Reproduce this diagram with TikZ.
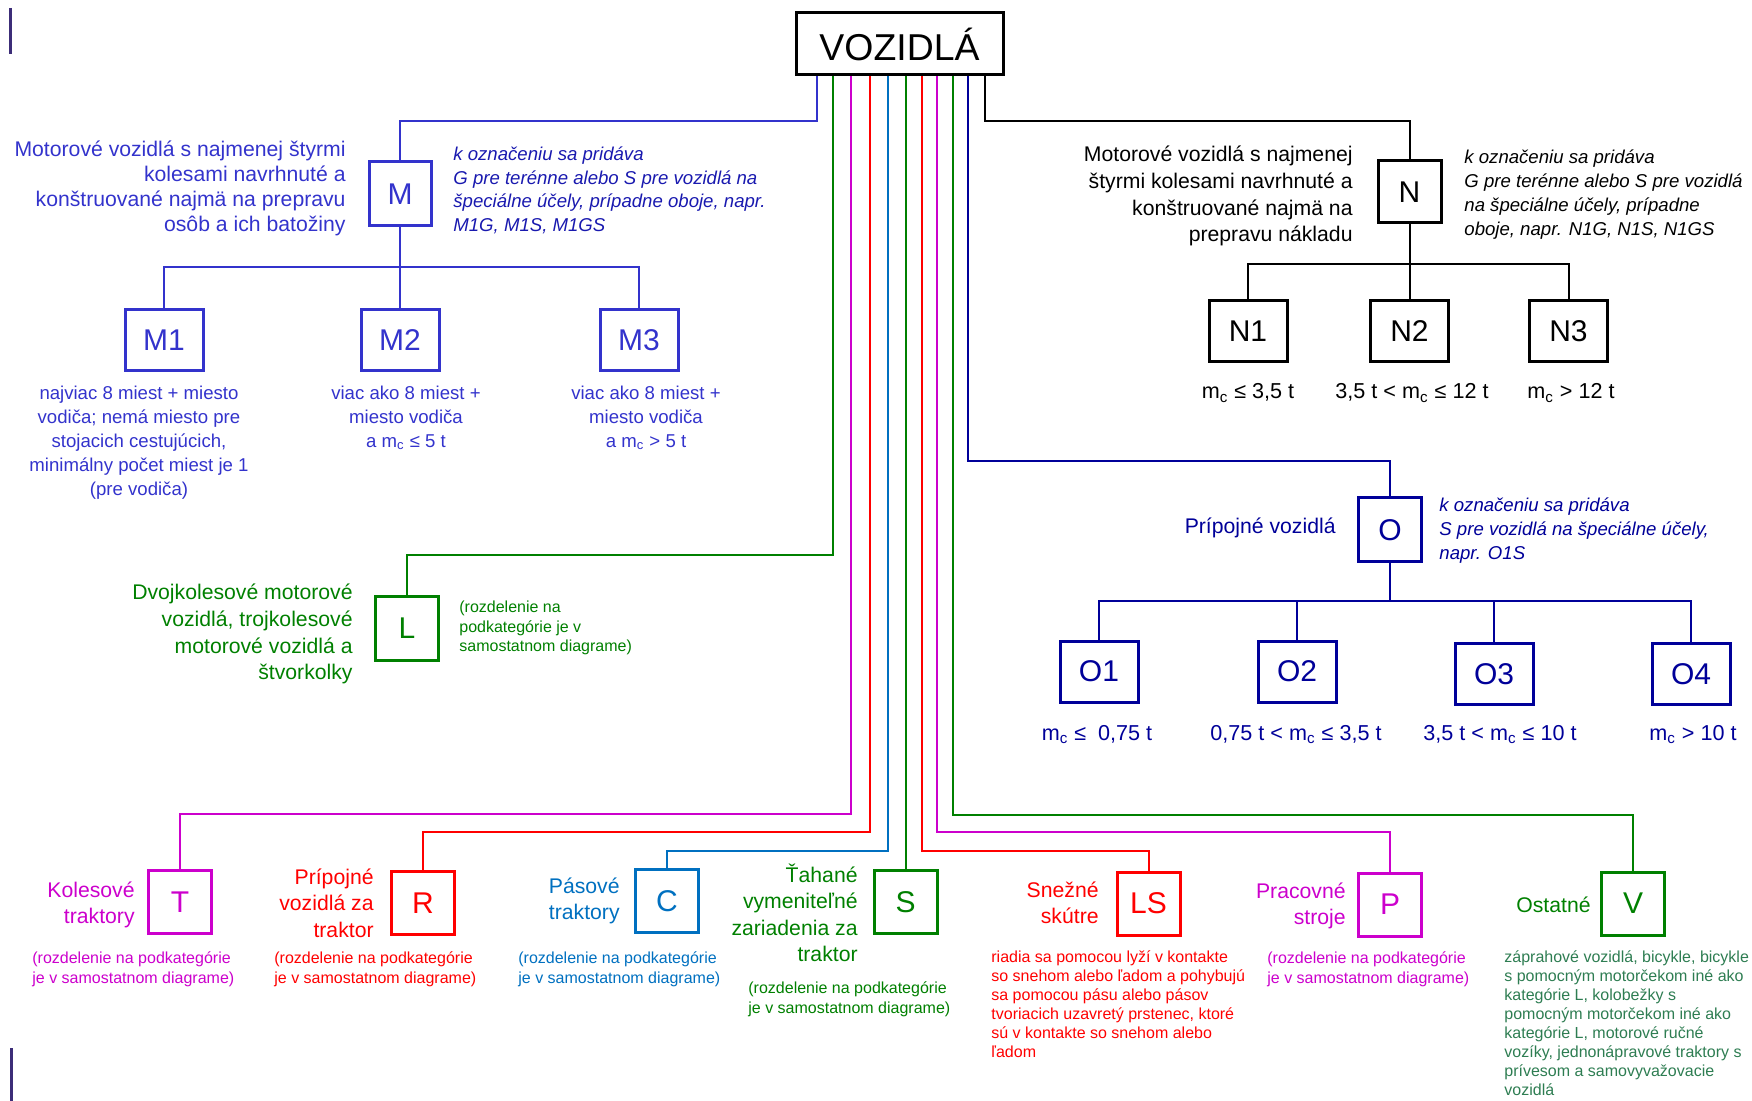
\documentclass[tikz,border=0pt]{standalone}
\usepackage{fontspec}
\setmainfont{Liberation Sans}
\definecolor{cM}{RGB}{51,51,204}
\definecolor{cMn}{RGB}{25,25,175}
\definecolor{cO}{RGB}{0,0,153}
\definecolor{cG}{RGB}{0,128,0}
\definecolor{cMag}{RGB}{204,0,204}
\definecolor{cR}{RGB}{255,0,0}
\definecolor{cC}{RGB}{0,112,192}
\definecolor{cV}{RGB}{46,125,82}
\definecolor{cBar}{RGB}{60,45,120}
\newcommand{\rblock}[1]{\begin{tabular}[t]{@{}r@{}}#1\end{tabular}}
\newcommand{\lblock}[1]{\begin{tabular}[t]{@{}l@{}}#1\end{tabular}}
\newcommand{\cblock}[1]{\begin{tabular}[t]{@{}c@{}}#1\end{tabular}}
\newcommand{\mc}{m\textsubscript{c}}
\begin{document}
\begin{tikzpicture}[x=0.5pt,y=-0.5pt,
  box/.style={draw, line width=1.5pt, inner sep=0pt, font=\fontsize{15}{18}\selectfont},
  sbox/.style={box, minimum width=31.5pt, minimum height=31.5pt},
  wbox/.style={box, minimum width=39pt, minimum height=30.5pt},
  cn/.style={line width=1pt},
  desc/.style={inner sep=0pt, font=\fontsize{10.6}{13.3}\selectfont},
  note/.style={inner sep=0pt, font=\fontsize{8}{10}\selectfont},
  inote/.style={inner sep=0pt, font=\fontsize{9.3}{11.8}\selectfont\itshape},
  sub/.style={inner sep=0pt, font=\fontsize{9.3}{12}\selectfont},
  lab/.style={inner sep=0pt, font=\fontsize{10.8}{13}\selectfont}]
\useasboundingbox (0,0) rectangle (1752,1101);
% side bars
\draw[cBar, line width=1.5pt] (10,8) -- (10,54);
\draw[cBar, line width=1.5pt] (11,1048) -- (11,1101);
% root
\node[box, minimum width=103.5pt, minimum height=31pt, font=\fontsize{18.7}{22}\selectfont] (voz) at (899.5,44) {VOZIDLÁ};
\coordinate (eM) at (voz.south -| 817,0);
\coordinate (eL) at (voz.south -| 832.7,0);
\coordinate (eT) at (voz.south -| 850.7,0);
\coordinate (eR) at (voz.south -| 870,0);
\coordinate (eC) at (voz.south -| 887.7,0);
\coordinate (eS) at (voz.south -| 905.7,0);
\coordinate (eLS) at (voz.south -| 922,0);
\coordinate (eP) at (voz.south -| 937.3,0);
\coordinate (eV) at (voz.south -| 953,0);
\coordinate (eO) at (voz.south -| 968.3,0);
\coordinate (eN) at (voz.south -| 984.7,0);
% M family
\node[box, cM, minimum width=31pt, minimum height=32pt] (M) at (400,194) {M};
\node[wbox, cM] (M1) at (164,340.5) {M1};
\node[wbox, cM] (M2) at (400,340.5) {M2};
\node[wbox, cM] (M3) at (639,340.5) {M3};
\draw[cn, cM] (eM) -- (eM |- 0,121) -| (M.north);
\draw[cn, cM] (M.south) -- (M2.north);
\draw[cn, cM] (M1.north) -- (M1.north |- 0,267) -| (M3.north);
\node[desc, cM, anchor=base east, font=\fontsize{10.6}{12.5}\selectfont] (Mdesc) at (346,157) {\rblock{Motorové vozidlá s najmenej štyrmi\\ kolesami navrhnuté a\\ konštruované najmä na prepravu\\ osôb a ich batožiny}};
\node[inote, cMn, anchor=base west] (Mnote) at (453,160.5) {\lblock{k označeniu sa pridáva\\ G pre terénne alebo S pre vozidlá na\\ špeciálne účely, prípadne oboje, napr.\\ M1G, M1S, M1GS}};
\node[sub, cM, anchor=base] (M1d) at (139,400) {\cblock{najviac 8 miest + miesto\\ vodiča; nemá miesto pre\\ stojacich cestujúcich,\\ minimálny počet miest je 1\\ (pre vodiča)}};
\node[sub, cM, anchor=base] (M2d) at (406,400) {\cblock{viac ako 8 miest +\\ miesto vodiča\\ a \mc{} ≤ 5 t}};
\node[sub, cM, anchor=base] (M3d) at (646,400) {\cblock{viac ako 8 miest +\\ miesto vodiča\\ a \mc{} > 5 t}};
% N family
\node[box, minimum width=31.5pt, minimum height=31pt] (N) at (1409.5,192) {N};
\node[wbox] (N1) at (1248,331.5) {N1};
\node[wbox] (N2) at (1409.5,331.5) {N2};
\node[wbox] (N3) at (1568.5,331.5) {N3};
\draw[cn] (eN) -- (eN |- 0,121) -| (N.north);
\draw[cn] (N.south) -- (N2.north);
\draw[cn] (N1.north) -- (N1.north |- 0,264) -| (N3.north);
\node[desc, anchor=base east] (Ndesc) at (1353,162) {\rblock{Motorové vozidlá s najmenej\\ štyrmi kolesami navrhnuté a\\ konštruované najmä na\\ prepravu nákladu}};
\node[inote, anchor=base west, font=\fontsize{9.3}{12}\selectfont\itshape] (Nnote) at (1464,163.5) {\lblock{k označeniu sa pridáva\\ G pre terénne alebo S pre vozidlá\\ na špeciálne účely, prípadne\\ oboje, napr. N1G, N1S, N1GS}};
\node[lab, anchor=base] (N1d) at (1248,399) {\mc{} ≤ 3,5 t};
\node[lab, anchor=base] (N2d) at (1412,399) {3,5 t < \mc{} ≤ 12 t};
\node[lab, anchor=base] (N3d) at (1571,399) {\mc{} > 12 t};
% O family
\node[box, cO, minimum width=31.5pt, minimum height=32pt] (O) at (1390,530) {O};
\node[wbox, cO] (O1) at (1099,671.5) {O1};
\node[wbox, cO] (O2) at (1297,671.5) {O2};
\node[wbox, cO] (O3) at (1494,674) {O3};
\node[wbox, cO] (O4) at (1691,674) {O4};
\draw[cn, cO] (eO) -- (eO |- 0,461.5) -| (O.north);
\draw[cn, cO] (O.south) -- (O.south |- 0,601);
\draw[cn, cO] (O1.north) -- (O1.north |- 0,601) -| (O4.north);
\draw[cn, cO] (O2.north) -- (O2.north |- 0,601);
\draw[cn, cO] (O3.north) -- (O3.north |- 0,601);
\node[desc, cO, anchor=base east] (Odesc) at (1336,534) {Prípojné vozidlá};
\node[inote, cO, anchor=base west] (Onote) at (1439,512) {\lblock{k označeniu sa pridáva\\ S pre vozidlá na špeciálne účely,\\ napr. O1S}};
\node[lab, cO, anchor=base] (O1d) at (1097,740) {\mc{} ≤\ \ 0,75 t};
\node[lab, cO, anchor=base] (O2d) at (1296,740) {0,75 t < \mc{} ≤ 3,5 t};
\node[lab, cO, anchor=base] (O3d) at (1500,740) {3,5 t < \mc{} ≤ 10 t};
\node[lab, cO, anchor=base] (O4d) at (1693,740) {\mc{} > 10 t};
% L
\node[sbox, cG] (L) at (407,628.5) {L};
\draw[cn, cG] (eL) -- (eL |- 0,555) -| (L.north);
\node[desc, cG, anchor=base east] (Ldesc) at (353,600) {\rblock{Dvojkolesové motorové\\ vozidlá, trojkolesové\\ motorové vozidlá a\\ štvorkolky}};
\node[note, cG, anchor=base west] (Lnote) at (459,612) {\lblock{(rozdelenie na\\ podkategórie je v\\ samostatnom diagrame)}};
% bottom row
\node[sbox, cMag] (T) at (180,902) {T};
\node[sbox, cR] (R) at (423,903) {R};
\node[sbox, cC] (C) at (667,901) {C};
\node[sbox, cG] (S) at (905.7,902) {S};
\node[sbox, cR] (LS) at (1148.5,903.5) {LS};
\node[sbox, cMag] (P) at (1390,904.5) {P};
\node[sbox, cG] (V) at (1633,903.5) {V};
\draw[cn, cMag] (eT) -- (eT |- 0,814) -| (T.north);
\draw[cn, cR] (eR) -- (eR |- 0,832) -| (R.north);
\draw[cn, cC] (eC) -- (eC |- 0,851) -| (C.north);
\draw[cn, cG] (eS) -- (S.north);
\draw[cn, cR] (eLS) -- (eLS |- 0,851) -| (LS.north);
\draw[cn, cMag] (eP) -- (eP |- 0,832) -| (P.north);
\draw[cn, cG] (eV) -- (eV |- 0,815) -| (V.north);
\node[desc, cMag, anchor=base east] (Tdesc) at (135,897) {\rblock{Kolesové\\ traktory}};
\node[desc, cR, anchor=base east] (Rdesc) at (374,884) {\rblock{Prípojné\\ vozidlá za\\ traktor}};
\node[desc, cC, anchor=base east] (Cdesc) at (620,893) {\rblock{Pásové\\ traktory}};
\node[desc, cG, anchor=base east] (Sdesc) at (858,882) {\rblock{Ťahané\\ vymeniteľné\\ zariadenia za\\ traktor}};
\node[desc, cR, anchor=base east] (LSdesc) at (1099,897) {\rblock{Snežné\\ skútre}};
\node[desc, cMag, anchor=base east] (Pdesc) at (1346,898) {\rblock{Pracovné\\ stroje}};
\node[desc, cG, anchor=base east] (Vdesc) at (1591,912) {Ostatné};
\node[note, cMag, anchor=base west] (Tnote) at (32,963) {\lblock{(rozdelenie na podkategórie\\ je v samostatnom diagrame)}};
\node[note, cR, anchor=base west] (Rnote) at (274,963) {\lblock{(rozdelenie na podkategórie\\ je v samostatnom diagrame)}};
\node[note, cC, anchor=base west] (Cnote) at (518,963) {\lblock{(rozdelenie na podkategórie\\ je v samostatnom diagrame)}};
\node[note, cG, anchor=base west] (Snote) at (748,993) {\lblock{(rozdelenie na podkategórie\\ je v samostatnom diagrame)}};
\node[note, cR, anchor=base west, font=\fontsize{8}{9.5}\selectfont] (LSnote) at (991,962) {\lblock{riadia sa pomocou lyží v kontakte\\ so snehom alebo ľadom a pohybujú\\ sa pomocou pásu alebo pásov\\ tvoriacich uzavretý prstenec, ktoré\\ sú v kontakte so snehom alebo\\ ľadom}};
\node[note, cMag, anchor=base west] (Pnote) at (1267,963) {\lblock{(rozdelenie na podkategórie\\ je v samostatnom diagrame)}};
\node[note, cV, anchor=base west, font=\fontsize{8}{9.5}\selectfont] (Vnote) at (1504,962) {\lblock{záprahové vozidlá, bicykle, bicykle\\ s pomocným motorčekom iné ako\\ kategórie L, kolobežky s\\ pomocným motorčekom iné ako\\ kategórie L, motorové ručné\\ vozíky, jednonápravové traktory s\\ prívesom a samovyvažovacie\\ vozidlá}};
\end{tikzpicture}
\end{document}
